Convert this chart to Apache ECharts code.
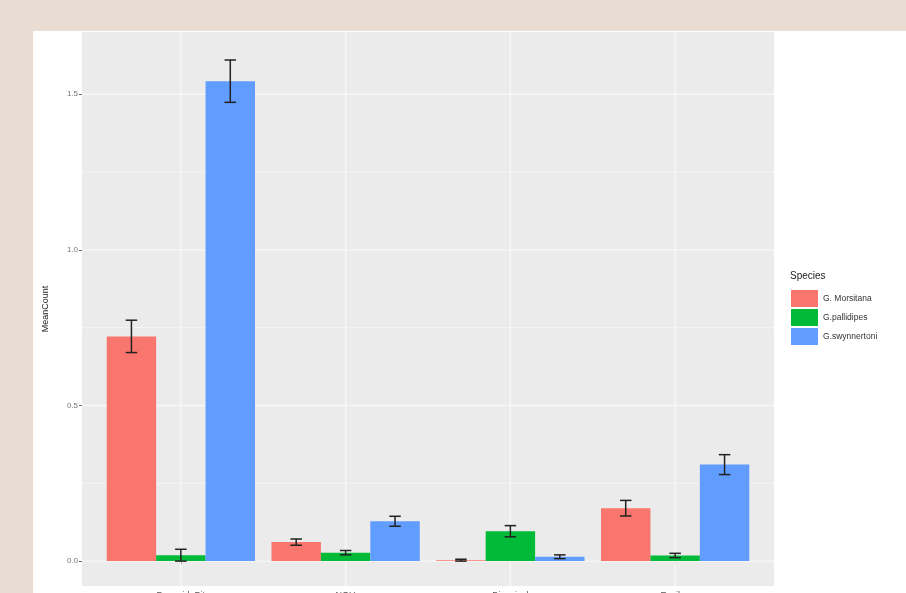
<!DOCTYPE html>
<html>
<head>
<meta charset="utf-8">
<script src="https://cdn.jsdelivr.net/npm/echarts@6/dist/echarts.min.js"></script>
<style>
html, body { margin: 0; padding: 0; background: #e9ddd3; }
#chart { width: 906px; height: 593px; }
</style>
</head>
<body>
<div id="chart"></div>
<script>
// data
const categories = ['Pyramid_Pit', 'NGU', 'Biconical', 'Epsilon'];
const species = ['G. Morsitana', 'G.pallidipes', 'G.swynnertoni'];
const colors = ['#F8766D', '#00BA38', '#619CFF'];
const morsitanaMean = [0.722, 0.061, 0.003, 0.170];
const morsitanaErr = [0.052, 0.010, 0.003, 0.025];
const pallidipesMean = [0.019, 0.027, 0.096, 0.018];
const pallidipesErr = [0.019, 0.007, 0.018, 0.007];
const swynnertoniMean = [1.542, 0.128, 0.014, 0.310];
const swynnertoniErr = [0.068, 0.016, 0.006, 0.032];
const yTicks = [0, 0.5, 1.0, 1.5];
const yMinor = [0.25, 0.75, 1.25];

const means = [morsitanaMean, pallidipesMean, swynnertoniMean];
const errs = [morsitanaErr, pallidipesErr, swynnertoniErr];
const catPos = categories.map((c, i) => i + 1);
const dodge = 0.3;

const chart = echarts.init(document.getElementById('chart'));

function barSeries(s) {
    return {
        name: species[s],
        type: 'custom',
        itemStyle: { color: colors[s] },
        data: catPos.map((x, i) => [x, means[s][i]]),
        renderItem: function (params, api) {
            const x = api.value(0) + (s - 1) * dodge;
            const p0 = api.coord([x - dodge / 2, 0]);
            const p1 = api.coord([x + dodge / 2, api.value(1)]);
            return {
                type: 'rect',
                shape: { x: p0[0], y: p1[1], width: p1[0] - p0[0], height: p0[1] - p1[1] },
                style: { fill: colors[s] }
            };
        },
        z: 3
    };
}

function errSeries(s) {
    return {
        name: species[s] + ' err',
        type: 'custom',
        data: catPos.map((x, i) => [x, means[s][i] - errs[s][i], means[s][i] + errs[s][i]]),
        renderItem: function (params, api) {
            const x = api.value(0) + (s - 1) * dodge;
            const lo = api.coord([x, api.value(1)]);
            const hi = api.coord([x, api.value(2)]);
            const half = api.size([0.035, 0])[0];
            const st = { stroke: '#222', lineWidth: 1.5 };
            return {
                type: 'group',
                children: [
                    { type: 'line', shape: { x1: lo[0], y1: lo[1], x2: hi[0], y2: hi[1] }, style: st },
                    { type: 'line', shape: { x1: lo[0] - half, y1: lo[1], x2: lo[0] + half, y2: lo[1] }, style: st },
                    { type: 'line', shape: { x1: hi[0] - half, y1: hi[1], x2: hi[0] + half, y2: hi[1] }, style: st }
                ]
            };
        },
        z: 4
    };
}

// white panel grid lines (ggplot style)
const gridSeries = {
    type: 'custom',
    silent: true,
    data: yMinor.map(v => [v, 1]).concat(yTicks.map(v => [v, 2])),
    renderItem: function (params, api) {
        const a = api.coord([0.4, api.value(0)]);
        const b = api.coord([4.6, api.value(0)]);
        return {
            type: 'line',
            shape: { x1: a[0], y1: a[1], x2: b[0], y2: b[1] },
            style: { stroke: '#f7f7f7', lineWidth: api.value(1) === 2 ? 1.4 : 0.8 }
        };
    },
    z: 1
};
const vGridSeries = {
    type: 'custom',
    silent: true,
    data: catPos.map(x => [x]),
    renderItem: function (params, api) {
        const a = api.coord([api.value(0), -0.08]);
        const b = api.coord([api.value(0), 1.70]);
        return {
            type: 'line',
            shape: { x1: a[0], y1: a[1], x2: b[0], y2: b[1] },
            style: { stroke: '#f7f7f7', lineWidth: 1.4 }
        };
    },
    z: 1
};

chart.setOption({
    animation: false,
    backgroundColor: '#e9ddd3',
    graphic: [
        { type: 'rect', left: 33, top: 31, shape: { width: 873, height: 562 }, style: { fill: '#ffffff' }, z: -10 },
        { type: 'text', left: 790, top: 271, style: { text: 'Species', fontFamily: 'Liberation Sans', fontSize: 10, fill: '#222' } }
    ],
    grid: {
        left: 82, right: 132, top: 32, bottom: 7,
        outerBoundsMode: 'none',
        containLabel: false,
        show: true, backgroundColor: '#EBEBEB', borderWidth: 0
    },
    legend: {
        data: species,
        orient: 'vertical',
        left: 786, top: 285,
        icon: 'rect',
        itemWidth: 27, itemHeight: 17,
        itemGap: 2,
        textStyle: { fontFamily: 'Liberation Sans', fontSize: 8.5, color: '#333' }
    },
    xAxis: {
        type: 'value',
        min: 0.4, max: 4.6,
        splitLine: { show: false },
        axisLine: { show: false },
        axisTick: { show: true, customValues: catPos, length: 3, lineStyle: { color: '#555' } },
        axisLabel: {
            customValues: catPos,
            margin: 5,
            fontFamily: 'Liberation Sans', fontSize: 9, color: '#555',
            formatter: v => categories[Math.round(v) - 1]
        }
    },
    yAxis: {
        type: 'value',
        min: -0.08, max: 1.70,
        name: 'MeanCount',
        nameLocation: 'middle',
        nameGap: 32,
        nameTextStyle: { fontFamily: 'Liberation Sans', fontSize: 9, color: '#222' },
        splitLine: { show: false },
        axisLine: { show: false },
        axisTick: { show: true, customValues: yTicks, length: 3, lineStyle: { color: '#666' } },
        axisLabel: {
            customValues: yTicks,
            margin: 4,
            fontFamily: 'Liberation Sans', fontSize: 8, color: '#777',
            formatter: v => v.toFixed(1)
        }
    },
    series: [gridSeries, vGridSeries]
        .concat([0, 1, 2].map(barSeries))
        .concat([0, 1, 2].map(errSeries))
});
</script>
</body>
</html>
